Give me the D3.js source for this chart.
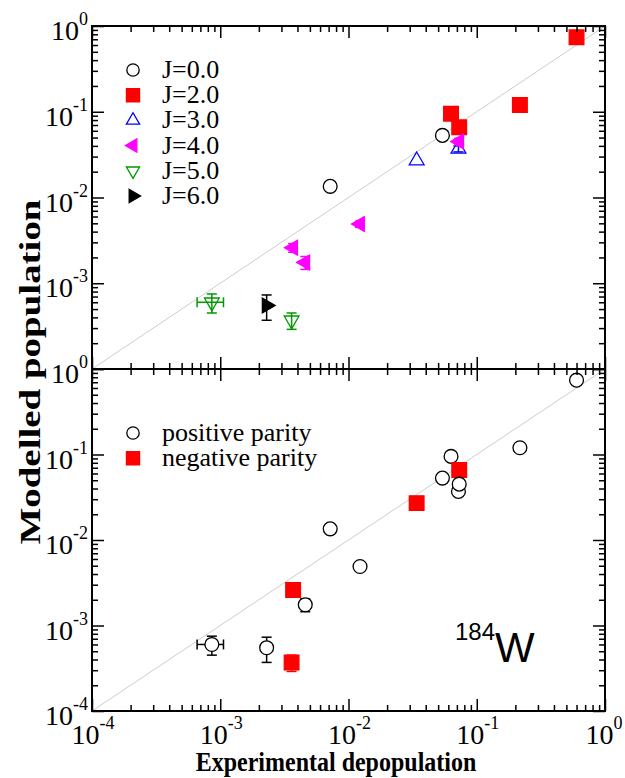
<!DOCTYPE html>
<html>
<head>
<meta charset="utf-8">
<script src="https://cdn.jsdelivr.net/npm/d3@7"></script>
<style>
  body { margin: 0; background: #fff; }
  text { font-family: "Liberation Serif", "Times New Roman", serif; fill: #000; }
</style>
</head>
<body>
<div id="chart-area"></div>
<script>

// Data (experimental depopulation vs modelled population)
let expDepop  = [0.0072, 0.054, 0.60, 0.217, 0.063, 0.073, 0.034, 0.072, 0.073, 0.0123, 0.0037, 0.0046, 0.00086, 0.0036, 0.0023];
let modelPop  = [0.0135, 0.053, 0.74, 0.12, 0.095, 0.066, 0.027, 0.037, 0.045, 0.0049, 0.0026, 0.00175, 0.0006, 0.00037, 0.00055];
let spinJ     = [0, 0, 2, 2, 2, 2, 3, 3, 4, 4, 4, 4, 5, 5, 6];
let parity    = ["+", "+", "+", "+", "+", "-", "-", "+", "+", "+", "-", "+", "+", "-", "+"];
let xErr      = [0, 0, 0, 0, 0, 0, 0, 0, 0, 0, 0, 0, 0.0002, 0, 0];
let yErr      = [0, 0, 0, 0, 0, 0, 0, 0.003, 0.004, 0.0004, 0.0003, 0.0003, 0.00015, 0.00008, 0.00018];

let spinLegend   = ["J=0.0", "J=2.0", "J=3.0", "J=4.0", "J=5.0", "J=6.0"];
let spinKeys     = [0, 2, 3, 4, 5, 6];
let parityLegend = ["positive parity", "negative parity"];
let parityKeys   = ["+", "-"];

let decades = [1e-4, 1e-3, 1e-2, 1e-1, 1];
let decadeExp = [-4, -3, -2, -1, 0];

let data = expDepop.map((d, i) => ({
  x: d, y: modelPop[i], j: spinJ[i], p: parity[i], dx: xErr[i], dy: yErr[i]
}));

// marker styles
let spinStyle = {
  0: {type: d3.symbolCircle, rot: 0, fill: "#fff", stroke: "#000", size: 150},
  2: {type: d3.symbolSquare, rot: 0, fill: "#ff0000", stroke: "#ff0000", size: 215},
  3: {type: d3.symbolTriangle, rot: 0, fill: "none", stroke: "#0000ff", size: 95},
  4: {type: d3.symbolTriangle, rot: -90, fill: "#ff00ff", stroke: "#ff00ff", size: 95},
  5: {type: d3.symbolTriangle, rot: 180, fill: "none", stroke: "#009900", size: 95},
  6: {type: d3.symbolTriangle, rot: 90, fill: "#000", stroke: "#000", size: 95}
};
let parityStyle = {
  "+": spinStyle[0],
  "-": spinStyle[2]
};

let W = 625, H = 778;
let pLeft = 92, pRight = 605, pTop = 26, pMid = 369, pBottom = 711;

let svg = d3.select("#chart-area").append("svg")
  .attr("width", W)
  .attr("height", H);

let x = d3.scaleLog().domain([1e-4, 1]).range([pLeft, pRight]);
let yTop = d3.scaleLog().domain([1e-4, 1]).range([pMid, pTop]);
let yBot = d3.scaleLog().domain([1e-4, 1]).range([pBottom, pMid]);

// minor tick values 2..9 per decade
let minors = [];
decades.slice(0, 4).forEach(d => { for (let k = 2; k <= 9; k++) minors.push(d * k); });

function drawAxes(g, y, panelTop, panelBottom) {
  let sets = [[decades, 12], [minors, 6]];
  sets.forEach(([vals, len]) => {
    g.append("g").attr("transform", "translate(" + pLeft + ",0)")
      .call(d3.axisLeft(y).tickValues(vals).tickSize(-len).tickFormat(""));
    g.append("g").attr("transform", "translate(" + pRight + ",0)")
      .call(d3.axisRight(y).tickValues(vals).tickSize(-len).tickFormat(""));
    g.append("g").attr("transform", "translate(0," + panelTop + ")")
      .call(d3.axisTop(x).tickValues(vals).tickSize(-len).tickFormat(""));
    g.append("g").attr("transform", "translate(0," + panelBottom + ")")
      .call(d3.axisBottom(x).tickValues(vals).tickSize(-len).tickFormat(""));
  });
  g.selectAll(".domain").remove();
  g.selectAll(".tick line").attr("stroke", "#000").attr("stroke-width", 1.5);
  g.append("rect")
    .attr("x", pLeft).attr("y", panelTop)
    .attr("width", pRight - pLeft).attr("height", panelBottom - panelTop)
    .attr("fill", "none").attr("stroke", "#000").attr("stroke-width", 2);
}

function drawYLabels(g, y, exps) {
  let lab = g.selectAll(".ylab").data(exps).enter().append("text")
    .attr("class", "ylab")
    .attr("text-anchor", "end")
    .attr("x", pLeft - 4)
    .attr("y", d => y(Math.pow(10, d)) + 14)
    .style("font-size", "28px");
  lab.append("tspan").text("10");
  lab.append("tspan").attr("dy", -15).style("font-size", "18px").text(d => d);
}

function diag(g, y) {
  g.append("line")
    .attr("x1", x(1e-4)).attr("y1", y(1e-4))
    .attr("x2", x(1)).attr("y2", y(1))
    .attr("stroke", "#cccccc").attr("stroke-width", 1);
}

function drawPoints(g, y, styleOf) {
  let pts = g.selectAll(".pt").data(data).enter().append("g").attr("class", "pt");
  let col = d => styleOf(d).stroke;
  // error bars
  pts.filter(d => d.dy > 0).each(function(d) {
    let s = d3.select(this);
    let y1 = y(d.y - d.dy), y2 = y(d.y + d.dy), cx = x(d.x);
    s.append("line").attr("x1", cx).attr("x2", cx).attr("y1", y1).attr("y2", y2);
    s.append("line").attr("x1", cx - 5).attr("x2", cx + 5).attr("y1", y1).attr("y2", y1);
    s.append("line").attr("x1", cx - 5).attr("x2", cx + 5).attr("y1", y2).attr("y2", y2);
  });
  pts.filter(d => d.dx > 0).each(function(d) {
    let s = d3.select(this);
    let x1 = x(d.x - d.dx), x2 = x(d.x + d.dx), cy = y(d.y);
    s.append("line").attr("x1", x1).attr("x2", x2).attr("y1", cy).attr("y2", cy);
    s.append("line").attr("x1", x1).attr("x2", x1).attr("y1", cy - 5).attr("y2", cy + 5);
    s.append("line").attr("x1", x2).attr("x2", x2).attr("y1", cy - 5).attr("y2", cy + 5);
  });
  pts.selectAll("line").attr("stroke", function() { return col(d3.select(this.parentNode).datum()); })
    .attr("stroke-width", 1.5);
  pts.append("path")
    .attr("transform", d => "translate(" + x(d.x) + "," + y(d.y) + ") rotate(" + styleOf(d).rot + ")")
    .attr("d", d => d3.symbol().type(styleOf(d).type).size(styleOf(d).size)())
    .attr("fill", d => styleOf(d).fill)
    .attr("stroke", d => styleOf(d).stroke)
    .attr("stroke-width", 1.3);
}

function drawLegend(g, keys, labels, styleOf, y0) {
  let items = g.selectAll(".leg").data(keys).enter().append("g")
    .attr("class", "leg")
    .attr("transform", (d, i) => "translate(133," + (y0 + i * 25.2) + ")");
  items.append("path")
    .attr("transform", d => "rotate(" + styleOf(d).rot + ")")
    .attr("d", d => d3.symbol().type(styleOf(d).type).size(styleOf(d).size * 0.8)())
    .attr("fill", d => styleOf(d).fill)
    .attr("stroke", d => styleOf(d).stroke)
    .attr("stroke-width", 1.3);
  items.append("text")
    .attr("x", 29).attr("y", 8)
    .style("font-size", "26px")
    .text((d, i) => labels[i]);
}

// top panel: by spin
let gTop = svg.append("g");
diag(gTop, yTop);
drawPoints(gTop, yTop, d => spinStyle[d.j]);
drawAxes(gTop, yTop, pTop, pMid);
drawYLabels(gTop, yTop, [0, -1, -2, -3]);
drawLegend(gTop, spinKeys, spinLegend, k => spinStyle[k], 70);

// bottom panel: by parity
let gBot = svg.append("g");
diag(gBot, yBot);
drawPoints(gBot, yBot, d => parityStyle[d.p]);
drawAxes(gBot, yBot, pMid, pBottom);
drawYLabels(gBot, yBot, decadeExp.slice().reverse());
drawLegend(gBot, parityKeys, parityLegend, k => parityStyle[k], 433);

// x tick labels
let xl = svg.selectAll(".xlab").data(decadeExp).enter().append("text")
  .attr("class", "xlab")
  .attr("text-anchor", "middle")
  .attr("x", d => x(Math.pow(10, d)) + (d === 0 ? -1 : 1))
  .attr("y", 744)
  .style("font-size", "28px");
xl.append("tspan").text("10");
xl.append("tspan").attr("dy", -15).style("font-size", "18px").text(d => d);

// axis titles
svg.append("text")
  .attr("transform", "translate(336,771) scale(1,1.17)")
  .attr("text-anchor", "middle")
  .style("font-size", "24px").style("font-weight", "bold")
  .text("Experimental depopulation");

svg.append("text")
  .attr("transform", "translate(40," + 372 + ") rotate(-90)")
  .attr("text-anchor", "middle")
  .attr("textLength", 345)
  .attr("lengthAdjust", "spacingAndGlyphs")
  .style("font-size", "30px").style("font-weight", "bold")
  .text("Modelled population");

// nucleus label
let nuc = svg.append("text")
  .attr("x", 455).attr("y", 662)
  .style("font-family", "'Liberation Sans', Arial, sans-serif");
nuc.append("tspan").style("font-size", "24px").attr("dy", -22).text("184");
nuc.append("tspan").style("font-size", "42px").attr("dy", 22).text("W");

</script>
</body>
</html>
